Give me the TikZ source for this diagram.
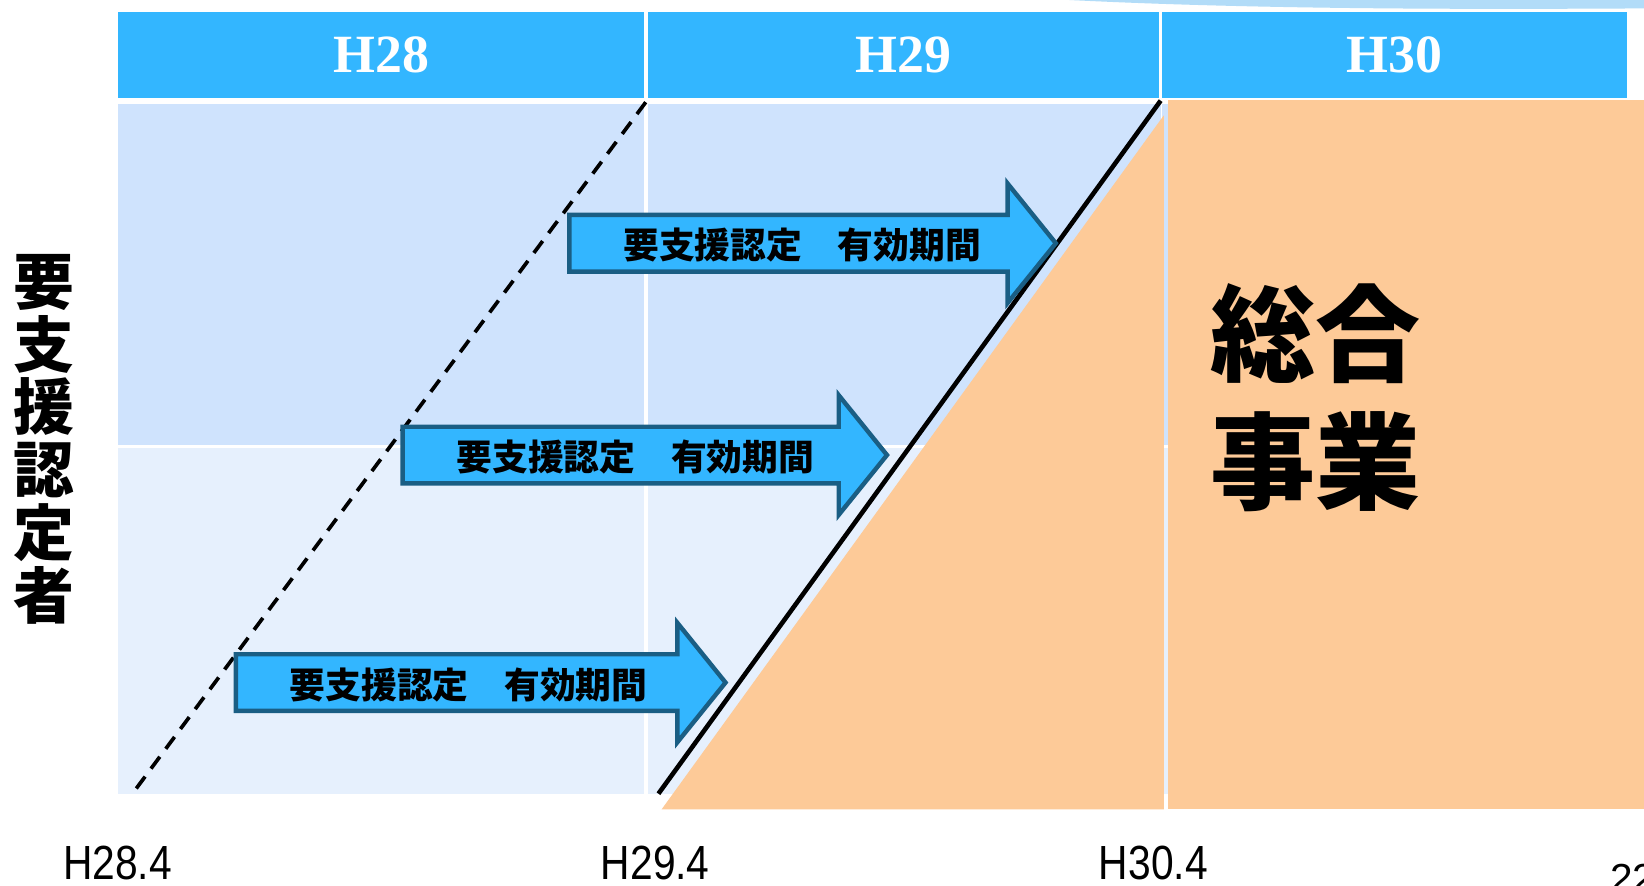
\documentclass[tikz,border=0pt]{standalone}
\usepackage{fontspec}
\usepackage{graphicx}
\setmainfont{Liberation Serif}
\newfontfamily\jpfont{Noto Sans CJK JP}
\newfontfamily\labelfont{Liberation Sans}
\definecolor{hdr}{RGB}{51,182,255}
\definecolor{celltop}{RGB}{207,227,253}
\definecolor{cellbot}{RGB}{230,240,253}
\definecolor{orng}{RGB}{253,202,152}
\definecolor{arrbd}{RGB}{26,94,132}
\definecolor{arrfill}{RGB}{51,182,255}
\definecolor{wave}{RGB}{178,220,248}
\tikzset{
  hdrbox/.style={fill=hdr, inner sep=0pt, minimum height=0.82cm, text=white,
    font=\fontsize{14.6pt}{16pt}\selectfont\bfseries},
  arrowshape/.style={draw=arrbd, fill=arrfill, line width=1.2pt, line join=miter},
  arrowtext/.style={font=\jpfont\bfseries\fontsize{9.7pt}{11pt}\selectfont, inner sep=0pt},
  ticklabel/.style={font=\labelfont\fontsize{13pt}{15pt}\selectfont, inner sep=0pt, anchor=base},
  bigtext/.style={font=\jpfont\bfseries, inner sep=0pt, align=center},
}
\newcommand\bluearrow[4]{%
  \draw[arrowshape] (#1,#3-27) -- (#2-46,#3-27) -- (#2-46,#3-57) -- (#2,#3)
    -- (#2-46,#3+57) -- (#2-46,#3+27) -- (#1,#3+27) -- cycle;
  \node[arrowtext] (#4) at (#1+222,#3+2) {要支援認定　有効期間};}
\begin{document}
\begin{tikzpicture}[x=0.01cm,y=-0.01cm]
\useasboundingbox (0,0) rectangle (1568,845);
\fill[white] (0,0) rectangle (1568,845);
% top-right decoration
\fill[wave] (1020,0) -- (1568,0) -- (1568,8) .. controls (1400,9) and (1200,9) .. (1020,0) -- cycle;
% header
\node[hdrbox, minimum width=5.01cm] (h28) at (363.5,52) {H28};
\node[hdrbox, minimum width=4.87cm] (h29) at (861.5,52) {H29};
\node[hdrbox, minimum width=4.44cm] (h30) at (1330,52) {H30};
% cells
\fill[celltop] (113,99) rectangle (614,424);
\fill[celltop] (618,99) rectangle (1107,424);
\fill[celltop] (1108,99) rectangle (1552,424);
\fill[cellbot] (113,427) rectangle (614,757);
\fill[cellbot] (618,427) rectangle (1107,757);
\fill[cellbot] (1108,427) rectangle (1552,757);
% orange area
\fill[orng] (631,772) -- (1110,110) -- (1110,772) -- cycle;
\fill[orng] (1114,95) rectangle (1568,772);
% lines
\coordinate (d0) at (130,752);
\coordinate (d1) at (617,96);
\coordinate (s0) at (628,757);
\coordinate (s1) at (1107,96);
\draw[line width=1pt, dash pattern=on 4pt off 2.7pt] (d0) -- (d1);
\draw[line width=1.25pt] (s0) -- (s1);
% arrows
\bluearrow{543}{1007}{232}{arrA}
\bluearrow{384}{846}{434}{arrB}
\bluearrow{225}{692}{651}{arrC}
% big texts
\node[bigtext, font=\jpfont\bfseries\fontsize{16.5pt}{17.07pt}\selectfont] (ylab) at (42,419) {要\\支\\援\\認\\定\\者};
\node[bigtext, font=\jpfont\bfseries\fontsize{28.5pt}{34.7pt}\selectfont] (sogo) at (1255,379) {総合\\事業};
% bottom labels
\node[ticklabel] (t28) at (112,839) {\scalebox{0.85}[1]{H28.4}};
\node[ticklabel] (t29) at (625,839) {\scalebox{0.85}[1]{H29.4}};
\node[ticklabel] (t30) at (1100,839) {\scalebox{0.85}[1]{H30.4}};
\node[ticklabel, anchor=base west, font=\labelfont\fontsize{11pt}{13pt}\selectfont] (pg) at (1535,851) {22};
\end{tikzpicture}
\end{document}
